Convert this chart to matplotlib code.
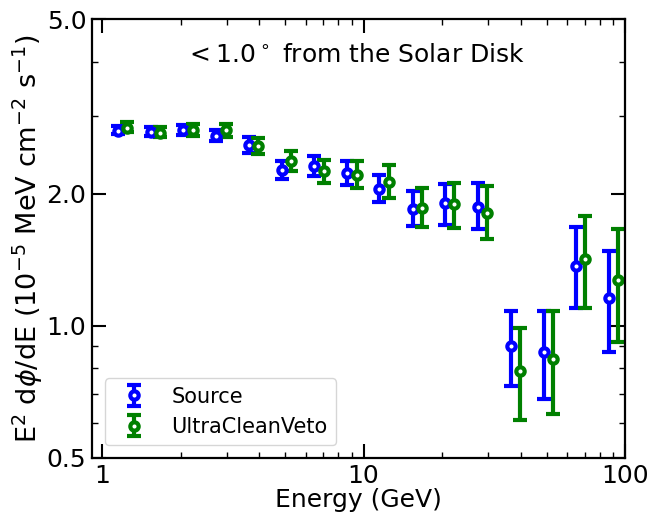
"""Spectrum near the Solar Disk: Source vs UltraCleanVeto"""
import numpy as np
import matplotlib
matplotlib.use("Agg")
from matplotlib import pyplot as plt
from matplotlib.ticker import FixedLocator, FixedFormatter, NullFormatter

# Bin centres (GeV)
energy = [1.15, 1.54, 2.05, 2.74, 3.65, 4.87, 6.49, 8.66,
          11.5, 15.4, 20.5, 27.4, 36.5, 48.7, 64.9, 86.6]

# E^2 dphi/dE (1e-5 MeV cm^-2 s^-1) with lower / upper bounds
src_flux = [2.78, 2.76, 2.79, 2.71, 2.58, 2.27, 2.31, 2.23,
            2.05, 1.85, 1.90, 1.87, 0.90, 0.87, 1.37, 1.16]
src_lo = [2.73, 2.70, 2.72, 2.63, 2.48, 2.16, 2.19, 2.09,
          1.91, 1.69, 1.70, 1.66, 0.73, 0.68, 1.10, 0.87]
src_hi = [2.86, 2.84, 2.87, 2.80, 2.69, 2.38, 2.44, 2.38,
          2.21, 2.03, 2.10, 2.11, 1.08, 1.08, 1.68, 1.48]

ucv_flux = [2.83, 2.75, 2.80, 2.79, 2.57, 2.38, 2.25, 2.21,
            2.13, 1.86, 1.89, 1.81, 0.79, 0.84, 1.42, 1.27]
ucv_lo = [2.77, 2.69, 2.71, 2.69, 2.46, 2.25, 2.11, 2.06,
          1.96, 1.68, 1.67, 1.58, 0.61, 0.63, 1.10, 0.92]
ucv_hi = [2.91, 2.84, 2.89, 2.89, 2.68, 2.50, 2.39, 2.38,
          2.32, 2.06, 2.12, 2.08, 0.99, 1.08, 1.78, 1.66]

plt.rcParams["font.family"] = ["DejaVu Sans"]

fig = plt.figure(figsize=(6.48, 5.14), dpi=100)
ax = fig.add_axes([0.142, 0.109, 0.823, 0.854])

e = np.array(energy)
style = dict(fmt="o", mfc="white", ms=6, mew=3, elinewidth=3,
             capsize=5, capthick=3)

# Source
f = np.array(src_flux)
ax.errorbar(e, f, yerr=[f - np.array(src_lo), np.array(src_hi) - f],
            color="blue", label="Source", **style)

# UltraCleanVeto, shifted slightly in energy for visibility
f = np.array(ucv_flux)
ax.errorbar(e * 1.085, f, yerr=[f - np.array(ucv_lo), np.array(ucv_hi) - f],
            color="green", label="UltraCleanVeto", **style)

ax.set_xscale("log")
ax.set_yscale("log")
ax.set_xlim(0.917, 100)
ax.set_ylim(0.5, 5.0)

ax.xaxis.set_major_locator(FixedLocator([1, 10, 100]))
ax.xaxis.set_major_formatter(FixedFormatter(["1", "10", "100"]))
ax.yaxis.set_major_locator(FixedLocator([0.5, 1.0, 2.0, 5.0]))
ax.yaxis.set_major_formatter(FixedFormatter(["0.5", "1.0", "2.0", "5.0"]))
ax.yaxis.set_minor_locator(FixedLocator([0.6, 0.7, 0.8, 0.9, 3, 4]))
ax.yaxis.set_minor_formatter(NullFormatter())

ax.tick_params(which="both", direction="in", top=True, right=True,
               labelsize=18)
ax.tick_params(which="major", length=10, width=1.5, pad=4)
ax.tick_params(which="minor", length=4, width=1.0)
for sp in ax.spines.values():
    sp.set_linewidth(1.6)

ax.set_xlabel("Energy (GeV)", fontsize=18, labelpad=0)
ax.set_ylabel(r"E$^2$ d$\phi$/dE (10$^{-5}$ MeV cm$^{-2}$ s$^{-1}$)",
              fontsize=19.5, labelpad=1)
ax.text(0.493, 0.902, r"$<1.0^\circ$ from the Solar Disk",
        transform=ax.transAxes, ha="center", va="baseline", fontsize=18)

ax.legend(loc="lower left", fontsize=15, borderaxespad=0.6)

fig.savefig("out.png", dpi=100)
